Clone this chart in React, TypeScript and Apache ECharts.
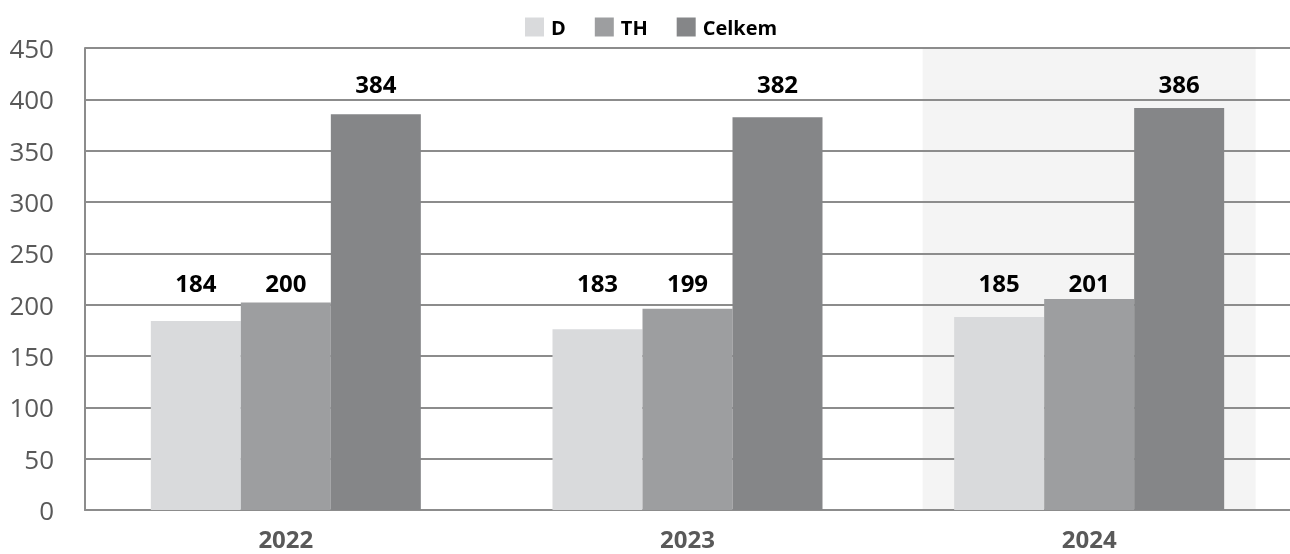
import React, { useEffect, useRef } from "react";
import * as echarts from "echarts";

const categories = ["2022", "2023", "2024"];
const seriesNames = ["D", "TH", "Celkem"];
const colors = ["#d9dadc", "#9d9ea0", "#858688"];
// bar heights as drawn in the picture
const barD = [184, 176, 188];
const barTH = [202, 196, 205.5];
const barCelkem = [385.5, 382.5, 391.5];
// printed value labels
const labelD = [184, 183, 185];
const labelTH = [200, 199, 201];
const labelCelkem = [384, 382, 386];
// highlighted category background (to axis max)
const highlight = [null, null, 450];
const yTicks = { min: 0, max: 450, interval: 50 };

// the labels sit on two fixed rows in the picture (axis units)
const LABEL_ROW_LOW = 210;
const LABEL_ROW_HIGH = 404;

const FONT = "'Open Sans', Lato, sans-serif";

export default function App() {
  const ref = useRef<HTMLDivElement>(null);
  useEffect(() => {
    if (!ref.current) return;
    const chart = echarts.init(ref.current, undefined, { renderer: "svg" });
    const bars = [barD, barTH, barCelkem];
    const labels = [labelD, labelTH, labelCelkem];
    const rows = [LABEL_ROW_LOW, LABEL_ROW_LOW, LABEL_ROW_HIGH];
    const barSeries = bars.map((d, i) => ({
      name: seriesNames[i],
      type: "bar",
      xAxisIndex: 0,
      data: d,
      barWidth: 90,
      barGap: "0%",
      z: 4,
      itemStyle: { color: colors[i] },
    }));
    const labelSeries = labels.map((d, i) => ({
      name: "lbl" + i,
      type: "bar",
      xAxisIndex: 2,
      data: d.map(() => rows[i]),
      barWidth: 90,
      barGap: "0%",
      z: 5,
      silent: true,
      itemStyle: { color: "transparent" },
      label: {
        show: true,
        position: "top",
        distance: 0,
        formatter: (p: any) => String(d[p.dataIndex]),
        color: "#000",
        fontFamily: FONT,
        fontWeight: "bold",
        fontSize: 24,
        lineHeight: 24,
      },
    }));
    chart.setOption({
      animation: false,
      textStyle: { fontFamily: FONT },
      legend: {
        data: seriesNames,
        left: 520,
        top: 12,
        icon: "rect",
        itemWidth: 19,
        itemHeight: 19,
        itemGap: 29,
        itemStyle: { borderWidth: 0 },
        textStyle: { color: "#000", fontWeight: "bold", fontSize: 20, fontFamily: FONT, padding: [0, 0, 0, 2] },
      },
      grid: { left: 85, right: 0, top: 48, bottom: 44 },
      xAxis: [
        {
          type: "category",
          data: categories,
          axisTick: { show: false },
          axisLine: { show: true, lineStyle: { color: "#8c8c8c", width: 2 } },
          axisLabel: {
            color: "#595959",
            fontWeight: "bold",
            fontSize: 24,
            lineHeight: 24,
            margin: 16,
            fontFamily: FONT,
          },
          z: 3,
        },
        { type: "category", data: categories, show: false },
        { type: "category", data: categories, show: false },
      ],
      yAxis: {
        type: "value",
        min: yTicks.min,
        max: yTicks.max,
        interval: yTicks.interval,
        z: 3,
        axisLine: { show: true, lineStyle: { color: "#8c8c8c", width: 2 } },
        axisTick: { show: false },
        splitLine: { show: true, lineStyle: { color: "#8c8c8c", width: 2 } },
        axisLabel: { color: "#595959", fontSize: 26, margin: 31, fontFamily: FONT },
      },
      series: [
        {
          name: "bg",
          type: "bar",
          xAxisIndex: 1,
          data: highlight,
          barWidth: 333,
          z: 1,
          silent: true,
          itemStyle: { color: "#f4f4f4" },
        },
        ...barSeries,
        ...labelSeries,
      ],
    });
    return () => chart.dispose();
  }, []);
  return (
    <div
      ref={ref}
      style={{ position: "fixed", left: 0, top: 0, width: 1290, height: 554 }}
    />
  );
}
